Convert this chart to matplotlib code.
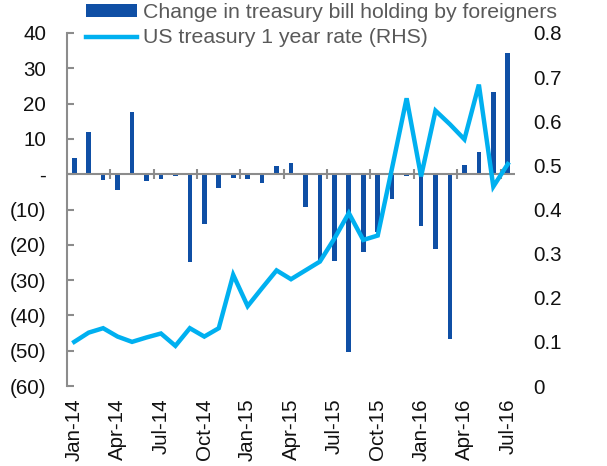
import matplotlib
matplotlib.use("Agg")
import matplotlib.pyplot as plt
import numpy as np

plt.rcParams['font.family'] = ['Liberation Sans', 'DejaVu Sans']

months = ["Jan-14", "Feb-14", "Mar-14", "Apr-14", "May-14", "Jun-14", "Jul-14", "Aug-14",
          "Sep-14", "Oct-14", "Nov-14", "Dec-14",
          "Jan-15", "Feb-15", "Mar-15", "Apr-15", "May-15", "Jun-15", "Jul-15", "Aug-15",
          "Sep-15", "Oct-15", "Nov-15", "Dec-15",
          "Jan-16", "Feb-16", "Mar-16", "Apr-16", "May-16", "Jun-16", "Jul-16"]
tbill_change = [4.5, 11.9, -1.7, -4.5, 17.6, -1.8, -1.4, -0.6, -24.9, -14.2, -4.0, -1.1,
                -1.4, -2.5, 2.3, 3.1, -9.2, -24.4, -24.5, -50.4, -22.0, -16.5, -7.1, -0.5,
                -14.7, -21.2, -46.6, 2.6, 6.2, 23.2, 34.2]
rate_1y = [0.100, 0.121, 0.131, 0.112, 0.100, 0.110, 0.119, 0.091, 0.131, 0.112, 0.131, 0.252,
           0.181, 0.222, 0.262, 0.242, 0.262, 0.282, 0.334, 0.392, 0.331, 0.341, 0.495, 0.652,
           0.475, 0.624, 0.593, 0.559, 0.683, 0.452, 0.503]
left_ticks = [40, 30, 20, 10, 0, -10, -20, -30, -40, -50, -60]
left_labels = ["40", "30", "20", "10", "-", "(10)", "(20)", "(30)", "(40)", "(50)", "(60)"]
right_ticks = [0, 0.1, 0.2, 0.3, 0.4, 0.5, 0.6, 0.7, 0.8]
right_labels = ["0", "0.1", "0.2", "0.3", "0.4", "0.5", "0.6", "0.7", "0.8"]
bar_label = "Change in treasury bill holding by foreigners"
line_label = "US treasury 1 year rate (RHS)"

BAR_C = "#0F4FA5"
LINE_C = "#00B0F0"
GRAY = "#8C8C8C"
FS = 14.8

fig = plt.figure(figsize=(6.07, 4.66), dpi=100)
ax = fig.add_axes([67/607, 1-386/466, (515-67)/607, (386-33)/466])
x = np.arange(len(months))

b = ax.bar(x, tbill_change, width=0.32, color=BAR_C, label=bar_label, zorder=2)
ax.set_xlim(-0.5, len(months) - 0.5)
ax.set_ylim(-60, 40)

# zero line with tick marks at quarter boundaries
ax.axhline(0, color=GRAY, lw=1.5, zorder=3)
bounds = np.arange(2.5, len(months) - 0.5, 3)
ax.vlines(bounds, -1.5, 1.5, color=GRAY, lw=1.5, zorder=3)

for s in ["top", "right", "bottom"]:
    ax.spines[s].set_visible(False)
ax.spines["left"].set_color(GRAY)
ax.spines["left"].set_linewidth(1.5)
ax.set_yticks(left_ticks)
ax.set_yticklabels(left_labels)
ax.tick_params(axis="y", direction="in", length=5, width=1.5, color=GRAY,
               pad=15, labelsize=FS, labelcolor="#111111")

ax.set_xticks(x[::3])
ax.set_xticklabels(months[::3], rotation=90)
ax.tick_params(axis="x", length=0, pad=9, labelsize=FS, labelcolor="#111111")

ax2 = ax.twinx()
ln, = ax2.plot(x, rate_1y, color=LINE_C, lw=3.2, label=line_label, zorder=4,
               solid_joinstyle="miter")
ax2.set_ylim(0, 0.8)
for s in ax2.spines.values():
    s.set_visible(False)
ax2.set_yticks(right_ticks)
ax2.set_yticklabels(right_labels)
ax2.tick_params(axis="y", length=0, pad=13, labelsize=FS, labelcolor="#111111")

leg = fig.legend([b, ln], [bar_label, line_label], loc="upper left",
                 bbox_to_anchor=(86/607, 1.0 - 3/466), frameon=False, fontsize=15.3,
                 handlelength=2.4, handleheight=0.5, handletextpad=0.3,
                 labelspacing=0.3, borderpad=0.0, borderaxespad=0.0)
for t in leg.get_texts():
    t.set_color("#595959")

fig.savefig("out.png", dpi=100)
